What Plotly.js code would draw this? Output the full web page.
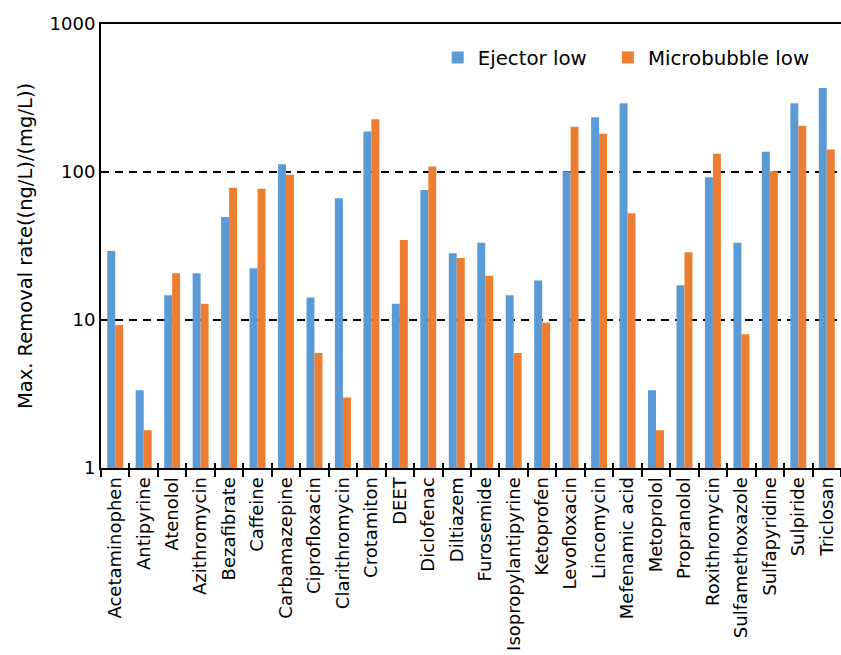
<!DOCTYPE html>
<html>
<head>
<meta charset="utf-8">
<script src="https://cdn.plot.ly/plotly-3.0.1.min.js"></script>
<style>html,body{margin:0;padding:0;background:#fff;overflow:hidden;}#chart{width:841px;height:655px;}</style>
</head>
<body>
<div id="chart"></div>
<script>
const categories = ["Acetaminophen","Antipyrine","Atenolol","Azithromycin","Bezafibrate","Caffeine","Carbamazepine","Ciprofloxacin","Clarithromycin","Crotamiton","DEET","Diclofenac","Diltiazem","Furosemide","Isopropylantipyrine","Ketoprofen","Levofloxacin","Lincomycin","Mefenamic acid","Metoprolol","Propranolol","Roxithromycin","Sulfamethoxazole","Sulfapyridine","Sulpiride","Triclosan"];
const ejectorLow = [29.3,3.35,14.7,20.7,49.7,22.4,112.7,14.2,66.4,188,12.9,75.5,28.2,33.3,14.7,18.5,101,234,291,3.35,17.2,92.1,33.3,137,291,370];
const microbubbleLow = [9.25,1.80,20.7,12.9,78.3,77.1,95.9,5.98,3.0,227,34.7,109,26.2,19.9,5.98,9.59,202,181,52.6,1.80,28.7,133,8.0,101,205,142];
const seriesNames = ["Ejector low","Microbubble low"];
const yTicks = [1,10,100,1000];

const FONT = "DejaVu Sans, sans-serif";
const xRange = [-0.5, categories.length - 0.5];
const traces = [
  {type:"bar", name:seriesNames[0], x:categories, y:ejectorLow, marker:{color:"#5B9BD5"}, legend:"legend"},
  {type:"bar", name:seriesNames[1], x:categories, y:microbubbleLow, marker:{color:"#ED7D31"}, legend:"legend2"},
  {type:"scatter", mode:"none", x:categories, y:ejectorLow, xaxis:"x2", yaxis:"y",
   showlegend:false, hoverinfo:"skip"}
];
const legendStyle = (x) => ({orientation:"h", x:x, y:0.968, xanchor:"left", yanchor:"top",
  font:{size:19.8, family:FONT, color:"#000"}, bgcolor:"rgba(0,0,0,0)"});
const layout = {
  width:841, height:655,
  margin:{l:101, r:0, t:24, b:187, autoexpand:false},
  paper_bgcolor:"#fff", plot_bgcolor:"#fff",
  barmode:"group", bargap:0.44, bargroupgap:0,
  font:{family:FONT, color:"#000"},
  showlegend:true,
  legend:legendStyle(0.455),
  legend2:legendStyle(0.685),
  xaxis:{type:"category", range:xRange, tickson:"boundaries", ticks:"outside", ticklen:7, tickwidth:2, tickcolor:"#000",
         showline:true, linecolor:"#000", linewidth:2, mirror:true, showgrid:false,
         tickangle:-90, tickfont:{size:18, family:FONT, color:"#000"}, automargin:false},
  xaxis2:{type:"category", range:xRange, overlaying:"x", anchor:"y", side:"bottom",
          tickson:"boundaries", ticks:"inside", ticklen:5, tickwidth:2, tickcolor:"#000",
          showticklabels:false, showline:false, showgrid:false, automargin:false},
  yaxis:{type:"log", range:[0,3], tickvals:yTicks, ticktext:yTicks.map(String), ticks:"",
         showline:true, linecolor:"#000", linewidth:2,
         showgrid:true, gridcolor:"#000", gridwidth:2, griddash:"8px,6px",
         tickfont:{size:18, family:FONT, color:"#000"}, automargin:false,
         title:{text:"Max. Removal rate((ng/L)/(mg/L))", font:{size:19.5, family:FONT, color:"#000"}, standoff:12}}
};
Plotly.newPlot("chart", traces, layout, {displayModeBar:false, staticPlot:true});
</script>
</body>
</html>
